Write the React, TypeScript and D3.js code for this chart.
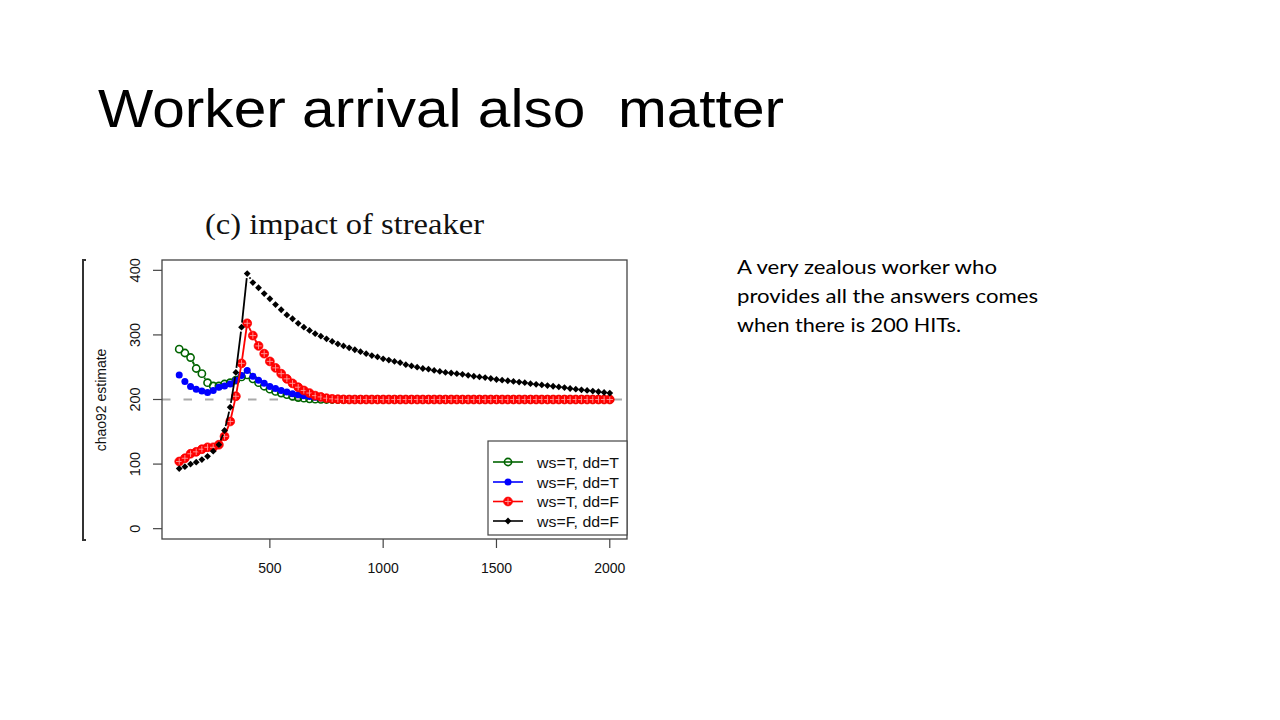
import React from "react";
import * as d3 from "d3";

const xValues = [100,125,150,175,200,225,250,275,300,325,350,375,400,425,450,475,500,525,550,575,600,625,650,675,700,725,750,775,800,825,850,875,900,925,950,975,1000,1025,1050,1075,1100,1125,1150,1175,1200,1225,1250,1275,1300,1325,1350,1375,1400,1425,1450,1475,1500,1525,1550,1575,1600,1625,1650,1675,1700,1725,1750,1775,1800,1825,1850,1875,1900,1925,1950,1975,2000];

const greenTT = [278,272,265,248,240,226,221,221,224,226,230,235,238,232,226,220.5,216,212.5,210,207.5,205,203,202,201,200.5,200.2,200,200,200,200,200,200,200,200,200,200,200,200,200,200,200,200,200,200,200,200,200,200,200,200,200,200,200,200,200,200,200,200,200,200,200,200,200,200,200,200,200,200,200,200,200,200,200,200,200,200,200];
const blueFT = [238,228,220,216,213,211,214,219,221,224,230,237,245,236,230,225,220,217,214,211.5,209,207.5,206,204.5,203.5,202.5,201.5,201,200.5,200.2,200,200,200,200,200,200,200,200,200,200,200,200,200,200,200,200,200,200,200,200,200,200,200,200,200,200,200,200,200,200,200,200,200,200,200,200,200,200,200,200,200,200,200,200,200,200,200];
const redTF = [104,109,116,119,123,126,126,130,143,166,205,256,318,299,283,271,259,249,240,232,225,219,214,210,206,204,202,201,200.5,200.2,200,200,200,200,200,200,200,200,200,200,200,200,200,200,200,200,200,200,200,200,200,200,200,200,200,200,200,200,200,200,200,200,200,200,200,200,200,200,200,200,200,200,200,200,200,200,200];
const blackFF = [93,96,100,103,107,112,120,130,152,188,242,312,395,381,373,364,356,347,339,331,325,318,312,307,302,298,294,290,286,283,280,277,274,271,268,266,263,261,259,257,254,252,250,248,247,245,243.5,242,241,240,239,237.5,236,235,234,232.5,231,230,229,228,227,226,224.5,223.5,222.5,221.5,220.5,219.5,218.5,217,216,215,214,213,212,211,210];

const xTicks = [500, 1000, 1500, 2000];
const yTicks = [0, 100, 200, 300, 400];
const legendLabels = ["ws=T, dd=T", "ws=F, dd=T", "ws=T, dd=F", "ws=F, dd=F"];
const seriesColors = ["#006400", "#0000FF", "#FF0000", "#000000"];
const seriesData = [greenTT, blueFT, redTF, blackFF];
const seriesShapes = ["open", "filled", "plus", "diamond"];

const PL = 162, PR = 627, PT = 260, PB = 539;
const xScale = d3.scaleLinear().domain([24, 2076]).range([PL, PR]);
const yScale = d3.scaleLinear().domain([-16, 416]).range([PB, PT]);

function Marker({ shape, color, cx, cy }: { shape: string; color: string; cx: number; cy: number }) {
  if (shape === "open") return <circle cx={cx} cy={cy} r={3.6} fill="none" stroke={color} strokeWidth={1.6} />;
  if (shape === "filled") return <circle cx={cx} cy={cy} r={3.5} fill={color} />;
  if (shape === "plus")
    return (
      <g>
        <circle cx={cx} cy={cy} r={4.4} fill={color} stroke={color} strokeWidth={0.8} />
        <line x1={cx - 3.2} x2={cx + 3.2} y1={cy} y2={cy} stroke="#ff9a9a" strokeWidth={0.9} />
        <line x1={cx} x2={cx} y1={cy - 3.2} y2={cy + 3.2} stroke="#ff9a9a" strokeWidth={0.9} />
      </g>
    );
  const s = 3.4;
  return <path d={`M${cx},${cy - s}L${cx + s},${cy}L${cx},${cy + s}L${cx - s},${cy}Z`} fill={color} />;
}

function gappedSegments(vals: number[]) {
  const gap = 4.5;
  const segs: { x1: number; y1: number; x2: number; y2: number }[] = [];
  for (let i = 0; i < vals.length - 1; i++) {
    const ax = xScale(xValues[i]), ay = yScale(vals[i]);
    const bx = xScale(xValues[i + 1]), by = yScale(vals[i + 1]);
    const dx = bx - ax, dy = by - ay;
    const d = Math.hypot(dx, dy);
    if (d <= 2 * gap + 1) continue;
    const ux = dx / d, uy = dy / d;
    segs.push({ x1: ax + ux * gap, y1: ay + uy * gap, x2: bx - ux * gap, y2: by - uy * gap });
  }
  return segs;
}

export default function App() {
  const legendRows = [462, 482, 501.5, 521];
  return (
    <svg width={1280} height={720} style={{ position: "absolute", left: 0, top: 0, background: "#fff" }}>
      <rect x={0} y={0} width={1280} height={720} fill="#fff" />
      <text x={98} y={127} fontFamily="Liberation Sans, Arial, sans-serif" fontSize={54} textLength={686} lengthAdjust="spacingAndGlyphs" style={{ whiteSpace: "pre" }} fill="#000">
        {"Worker arrival also  matter"}
      </text>

      <text x={205} y={234} fontFamily="Liberation Serif, Times New Roman, serif" fontSize={30} textLength={279} lengthAdjust="spacingAndGlyphs" fill="#111">
        (c) impact of streaker
      </text>

      {/* left bracket artifact */}
      <path d="M86,260 L83,260 L83,540 L86,540" fill="none" stroke="#333" strokeWidth={2} />

      {/* y axis title */}
      <text transform="translate(106,400) rotate(-90)" textAnchor="middle" fontFamily="Liberation Sans, Arial, sans-serif" fontSize={14} fill="#111">
        chao92 estimate
      </text>

      {/* reference line */}
      <line x1={PL} x2={PR} y1={yScale(200)} y2={yScale(200)} stroke="#aaaaaa" strokeWidth={2.2} strokeDasharray="8.5,13" />

      {/* series */}
      {seriesData.map((vals, si) => (
        <g key={si}>
          {gappedSegments(vals).map((s, i) => (
            <line key={i} x1={s.x1} y1={s.y1} x2={s.x2} y2={s.y2} stroke={seriesColors[si]} strokeWidth={1.8} />
          ))}
          {vals.map((v, i) => (
            <Marker key={i} shape={seriesShapes[si]} color={seriesColors[si]} cx={xScale(xValues[i])} cy={yScale(v)} />
          ))}
        </g>
      ))}

      {/* box */}
      <rect x={PL} y={PT} width={PR - PL} height={PB - PT} fill="none" stroke="#444" strokeWidth={1.3} />

      {/* x axis */}
      {xTicks.map((t) => (
        <g key={t}>
          <line x1={xScale(t)} x2={xScale(t)} y1={PB} y2={PB + 9} stroke="#444" strokeWidth={1.2} />
          <text x={xScale(t)} y={572.5} textAnchor="middle" fontFamily="Liberation Sans, Arial, sans-serif" fontSize={14} fill="#111">
            {t}
          </text>
        </g>
      ))}

      {/* y axis */}
      {yTicks.map((t) => (
        <g key={t}>
          <line x1={PL - 9} x2={PL} y1={yScale(t)} y2={yScale(t)} stroke="#444" strokeWidth={1.2} />
          <text transform={`translate(140,${yScale(t)}) rotate(-90)`} textAnchor="middle" fontFamily="Liberation Sans, Arial, sans-serif" fontSize={14.5} fill="#111">
            {t}
          </text>
        </g>
      ))}

      {/* legend */}
      <rect x={488} y={441} width={PR - 488} height={535 - 441} fill="#fff" stroke="#444" strokeWidth={1.2} />
      {legendLabels.map((lab, i) => (
        <g key={lab}>
          <line x1={493} x2={523} y1={legendRows[i]} y2={legendRows[i]} stroke={seriesColors[i]} strokeWidth={1.6} />
          <Marker shape={seriesShapes[i]} color={seriesColors[i]} cx={508} cy={legendRows[i]} />
          <text x={537} y={legendRows[i] + 5.5} fontFamily="Liberation Sans, Arial, sans-serif" fontSize={15.5} textLength={82} lengthAdjust="spacingAndGlyphs" fill="#111">
            {lab}
          </text>
        </g>
      ))}

      {/* side text */}
      {[
        { t: "A very zealous worker who", y: 274, w: 260 },
        { t: "provides all the answers comes", y: 302.7, w: 301 },
        { t: "when there is 200 HITs.", y: 331.5, w: 224 },
      ].map((l) => (
        <text key={l.t} x={737} y={l.y} fontFamily="Lato, Open Sans, sans-serif" fontSize={19} textLength={l.w} lengthAdjust="spacingAndGlyphs" fill="#000">
          {l.t}
        </text>
      ))}
    </svg>
  );
}
